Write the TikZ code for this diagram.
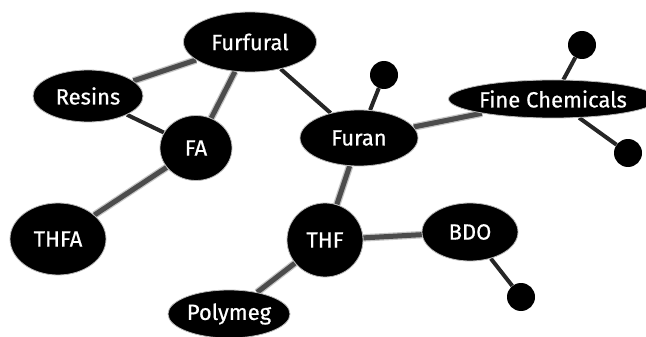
\documentclass[tikz,border=0pt]{standalone}
\usepackage{fontspec}
\newfontfamily\lblfont{Fira Sans}[FakeBold=0.6]
\usetikzlibrary{shapes.geometric,backgrounds}
\tikzset{
  blob/.style={ellipse, fill=black, draw=gray!55, line width=0.8pt, inner sep=0pt,
    text=white, font=\lblfont\fontsize{22}{22}\selectfont},
  dot/.style={circle, fill=black, inner sep=0pt, minimum size=28pt},
  link/.style={draw=black!70, line width=5pt, preaction={draw=gray!45, line width=7.5pt}},
  thinlink/.style={draw=black!85, line width=4pt}
}
\begin{document}
\begin{tikzpicture}[x=1pt,y=-1pt]
\useasboundingbox (0,0) rectangle (646,337);
\node[blob, minimum width=133pt, minimum height=60pt] (furfural) at (250,42) {Furfural};
\node[blob, minimum width=110pt, minimum height=52pt] (resins) at (88,96) {Resins};
\node[blob, minimum width=72pt, minimum height=65pt] (fa) at (196,148) {FA};
\node[blob, minimum width=118pt, minimum height=56pt] (furan) at (359,138) {Furan};
\node[blob, minimum width=186pt, minimum height=38pt] (fine) at (553,99) {Fine Chemicals};
\node[blob, minimum width=96pt, minimum height=72pt] (thfa) at (58,239) {THFA};
\node[blob, minimum width=76pt, minimum height=74pt] (thf) at (325,240) {THF};
\node[blob, minimum width=96pt, minimum height=58pt] (bdo) at (470,232) {BDO};
\node[blob, minimum width=122pt, minimum height=48pt] (polymeg) at (229,314) {Polymeg};
\node[dot] (d1) at (384,75) {};
\node[dot] (d2) at (582,45) {};
\node[dot] (d3) at (628,153) {};
\node[dot] (d4) at (521,297) {};
\begin{scope}[on background layer]
\draw[link] (furfural) -- (resins);
\draw[link] (furfural) -- (fa);
\draw[thinlink] (furfural) -- (furan);
\draw[thinlink] (resins) -- (fa);
\draw[link] (fa) -- (thfa);
\draw[link] (furan) -- (thf);
\draw[link] (furan) -- (fine);
\draw[thinlink] (furan) -- (d1);
\draw[thinlink] (fine) -- (d2);
\draw[thinlink] (fine) -- (d3);
\draw[link] (thf) -- (bdo);
\draw[link] (thf) -- (polymeg);
\draw[thinlink] (bdo) -- (d4);
\end{scope}
\end{tikzpicture}
\end{document}
